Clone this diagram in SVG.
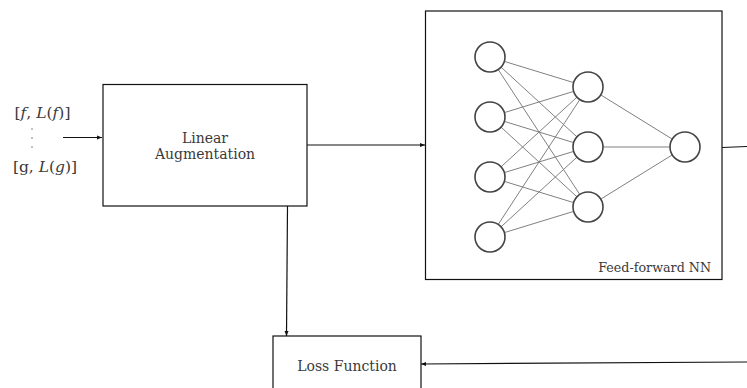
<svg xmlns="http://www.w3.org/2000/svg" width="747" height="388" viewBox="0 0 747 388">
<style>
.box{fill:#fff;stroke:#111;stroke-width:1.2}
.t{font-family:"DejaVu Serif",serif;fill:#3a3a3a;font-size:14px}
.t.in{font-size:15.5px}
.t.sm{font-size:12.7px}
.c{fill:none;stroke:#111;stroke-width:1.2}
.w{stroke:#808080;stroke-width:1}
.n{fill:#fff;stroke:#444;stroke-width:1.6}
</style>
<defs>
<marker id="ah" markerWidth="6" markerHeight="6" refX="5" refY="3" orient="auto" markerUnits="userSpaceOnUse">
<path d="M0,1 L5,3 L0,5 Z" fill="#111"/>
</marker>
</defs>
<g id="inputs">
<text class="t in" x="42.5" y="118" text-anchor="middle">[<tspan font-style="italic">f</tspan>, <tspan font-style="italic">L</tspan>(<tspan font-style="italic">f</tspan>)]</text>
<circle cx="32" cy="129" r="0.7" fill="#555"/>
<circle cx="32" cy="138" r="0.7" fill="#555"/>
<circle cx="32" cy="147" r="0.7" fill="#555"/>
<text class="t in" x="45" y="172" text-anchor="middle">[g, <tspan font-style="italic">L</tspan>(<tspan font-style="italic">g</tspan>)]</text>
</g>
<g id="linear-augmentation">
<rect class="box" x="103" y="84.5" width="204" height="121.5"/>
<text class="t" x="205" y="143" text-anchor="middle">Linear</text>
<text class="t" x="205" y="159" text-anchor="middle">Augmentation</text>
</g>
<g id="ffnn">
<rect class="box" x="425.5" y="11" width="296.5" height="268.5"/>
<g id="weights">
<line class="w" x1="490" y1="57" x2="588" y2="87"/><line class="w" x1="490" y1="57" x2="588" y2="147"/><line class="w" x1="490" y1="57" x2="588" y2="207"/>
<line class="w" x1="490" y1="117" x2="588" y2="87"/><line class="w" x1="490" y1="117" x2="588" y2="147"/><line class="w" x1="490" y1="117" x2="588" y2="207"/>
<line class="w" x1="490" y1="177" x2="588" y2="87"/><line class="w" x1="490" y1="177" x2="588" y2="147"/><line class="w" x1="490" y1="177" x2="588" y2="207"/>
<line class="w" x1="490" y1="237" x2="588" y2="87"/><line class="w" x1="490" y1="237" x2="588" y2="147"/><line class="w" x1="490" y1="237" x2="588" y2="207"/>
<line class="w" x1="588" y1="87" x2="685" y2="147"/><line class="w" x1="588" y1="147" x2="685" y2="147"/><line class="w" x1="588" y1="207" x2="685" y2="147"/>
</g>
<g id="neurons">
<circle class="n" cx="490" cy="57" r="15"/><circle class="n" cx="490" cy="117" r="15"/><circle class="n" cx="490" cy="177" r="15"/><circle class="n" cx="490" cy="237" r="15"/>
<circle class="n" cx="588" cy="87" r="15"/><circle class="n" cx="588" cy="147" r="15"/><circle class="n" cx="588" cy="207" r="15"/>
<circle class="n" cx="685" cy="147" r="15"/>
</g>
<text class="t sm" x="711" y="272" text-anchor="end">Feed-forward NN</text>
</g>
<g id="loss-function">
<rect class="box" x="273" y="336" width="148" height="60"/>
<text class="t" x="347" y="371" text-anchor="middle">Loss Function</text>
</g>
<g id="connectors">
<line class="c" x1="63" y1="137.5" x2="102" y2="137.5" marker-end="url(#ah)"/>
<line class="c" x1="307" y1="145" x2="425" y2="145" marker-end="url(#ah)"/>
<line class="c" x1="287.5" y1="206" x2="286.5" y2="336" marker-end="url(#ah)"/>
<line class="c" x1="722" y1="147.5" x2="747" y2="146.5"/>
<line class="c" x1="747" y1="362" x2="421" y2="364" marker-end="url(#ah)"/>
</g>
</svg>
